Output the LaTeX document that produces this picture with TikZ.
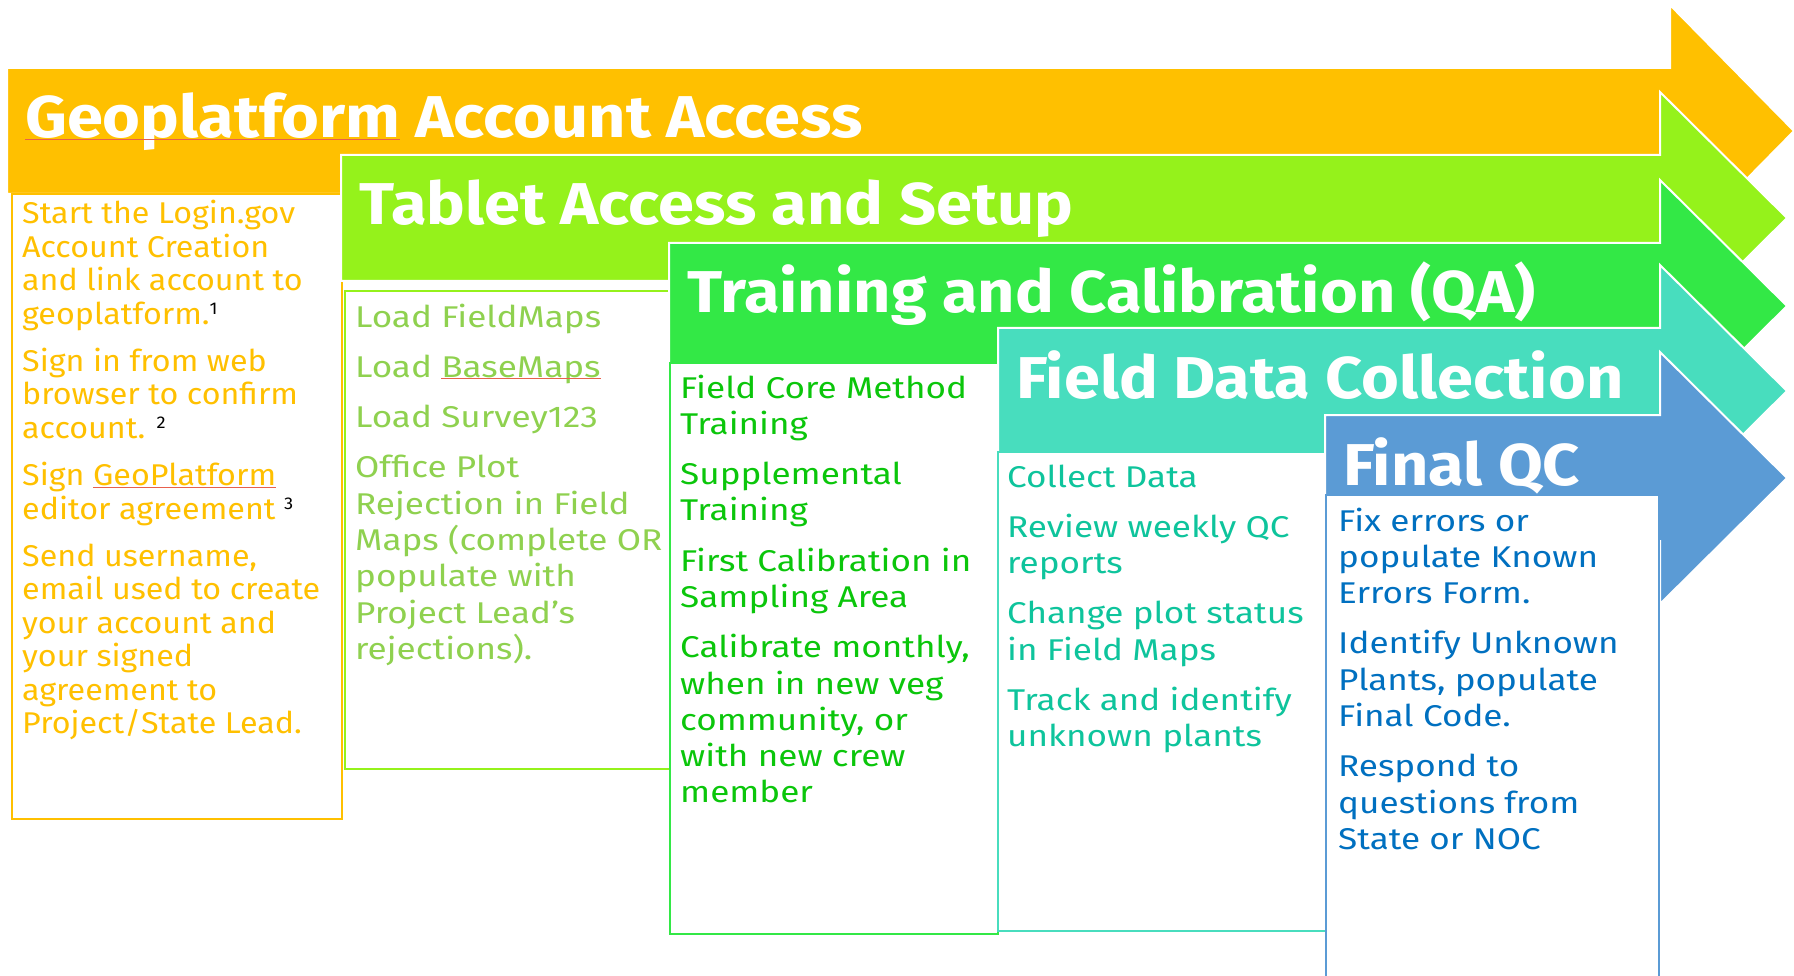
\documentclass[tikz,border=0pt]{standalone}
\usepackage{fontspec}
\setmainfont{Fira Sans}
\newfontfamily\titlefont[FakeStretch=1.10]{Fira Sans}
\newfontfamily\listfont[FakeStretch=1.17]{Fira Sans}
\newfontfamily\geolistfont[FakeStretch=1.075]{Fira Sans}
\usetikzlibrary{positioning}

\definecolor{geoorange}{HTML}{FFC000}
\definecolor{tabletlime}{HTML}{95F21B}
\definecolor{tablettext}{HTML}{8FD14F}
\definecolor{traingreen}{HTML}{33E846}
\definecolor{traintext}{HTML}{0BC60B}
\definecolor{fieldteal}{HTML}{48DDBE}
\definecolor{fieldtext}{HTML}{0EC49C}
\definecolor{qcblue}{HTML}{5B9BD5}
\definecolor{qctext}{HTML}{0070C0}
\definecolor{spellred}{HTML}{E8604C}

\newsavebox\spellbox
\newcommand\spellmark[1]{\sbox\spellbox{#1}\usebox\spellbox\llap{\color{spellred}\rule[-1.5pt]{\wd\spellbox}{0.7pt}}}
\newcommand\fnmark[1]{\raisebox{10pt}{\color{black}\fontsize{17}{17}\selectfont #1}}
\newcommand\pgap{\\[14pt]}

\begin{document}
\begin{tikzpicture}[x=1pt, y=-1pt,
      stage/.style = {draw=white, line width=2pt},
      title/.style = {anchor=base west, inner sep=0pt, text=white,
                      font=\titlefont\fontsize{59}{59}\selectfont\bfseries},
        box/.style = {rectangle, draw, fill=white, line width=2.2pt,
                      anchor=north west, inner sep=0pt},
       list/.style = {anchor=base west, inner sep=0pt}
                    ]
\useasboundingbox (0,0) rectangle (1794,976);
\clip (0,0) rectangle (1794,976);

% stage arrows, each with its box under it
\foreach \lx/\ty/\hb/\tip/\col/\bx/\by/\bw/\bh/\nm/\ttl in {
    7/68/1670/1794/geoorange/11/193/330/625/geo/{\spellmark{Geoplatform} Account Access},
    341/155/1660/1787/tabletlime/344/290/328/478/tablet/{Tablet Access and Setup},
    669/243/1660/1787/traingreen/669/362/328/571/train/{Training and Calibration (QA)},
    998/328/1660/1787/fieldteal/997/451/328/479/field/{Field Data Collection},
    1325/415/1660/1787/qcblue/1325/494/333/520/qc/{Final QC}}
{
  \fill[stage, fill=\col] (\lx,\ty) -- (\hb,\ty) -- (\hb,\ty-63) -- (\tip,\ty+63)
        -- (\hb,\ty+189) -- (\hb,\ty+126) -- (\lx,\ty+126) -- cycle;
  \node (\nm-title) [title] at (\lx+18,\ty+70) {\ttl};
  \node (\nm-box) [box, draw=\col, minimum width=\bw, minimum height=\bh] at (\bx,\by) {};
}

\node (geo-list) [list, text=geoorange] at (22,224) {\parbox[t]{320pt}{%
  \geolistfont\fontsize{30}{33.4}\selectfont
  Start the Login.gov\\ Account Creation\\ and link account to\\ geoplatform.\fnmark{1}\pgap
  Sign in from web\\ browser to confirm\\ account. \fnmark{2}\pgap
  Sign \spellmark{GeoPlatform}\\ editor agreement \fnmark{3}\pgap
  Send username,\\ email used to create\\ your account and\\ your signed\\ agreement to\\ Project/State Lead.}};

\node (tablet-list) [list, text=tablettext] at (355,327) {\parbox[t]{320pt}{%
  \listfont\fontsize{30}{36.3}\selectfont
  Load FieldMaps\pgap
  Load \spellmark{BaseMaps}\pgap
  Load Survey123\pgap
  Office Plot\\ Rejection in Field\\ Maps (complete OR\\ populate with\\ Project Lead’s\\ rejections).}};

\node (train-list) [list, text=traintext] at (680,398) {\parbox[t]{320pt}{%
  \listfont\fontsize{30}{36.3}\selectfont
  Field Core Method\\ Training\pgap
  Supplemental\\ Training\pgap
  First Calibration in\\ Sampling Area\pgap
  Calibrate monthly,\\ when in new veg\\ community, or\\ with new crew\\ member}};

\node (field-list) [list, text=fieldtext] at (1007,487) {\parbox[t]{320pt}{%
  \listfont\fontsize{30}{36.3}\selectfont
  Collect Data\pgap
  Review weekly QC\\ reports\pgap
  Change plot status\\ in Field Maps\pgap
  Track and identify\\ unknown plants}};

\node (qc-list) [list, text=qctext] at (1338,531) {\parbox[t]{320pt}{%
  \listfont\fontsize{30}{36.3}\selectfont
  Fix errors or\\ populate Known\\ Errors Form.\pgap
  Identify Unknown\\ Plants, populate\\ Final Code.\pgap
  Respond to\\ questions from\\ State or NOC}};
\end{tikzpicture}
\end{document}
